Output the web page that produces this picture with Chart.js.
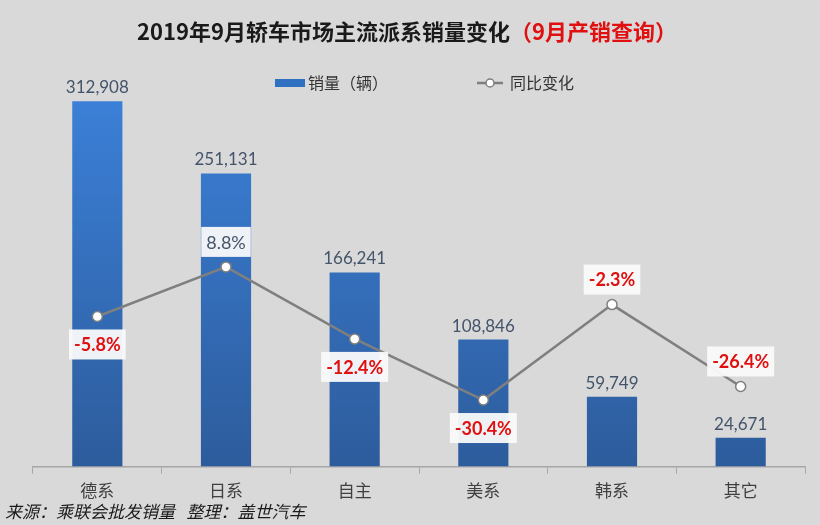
<!DOCTYPE html>
<html>
<head>
<meta charset="utf-8">
<script src="https://cdn.jsdelivr.net/npm/chart.js@4.4.1/dist/chart.umd.min.js"></script>
<style>
  html, body { margin: 0; padding: 0; background: #d9d9d9; }
  #wrap { width: 820px; height: 525px; position: relative; }
</style>
</head>
<body>
<div id="wrap"><canvas id="c" width="820" height="525"></canvas></div>
<script>
const categories = ['德系', '日系', '自主', '美系', '韩系', '其它'];
const sales = [312908, 251131, 166241, 108846, 59749, 24671];
const yoy = [-5.8, 8.8, -12.4, -30.4, -2.3, -26.4];

const salesLabel = '销量（辆）';
const yoyLabel = '同比变化';
const titleMain = '2019年9月轿车市场主流派系销量变化';
const titleRed = '（9月产销查询）';
const footer = '来源：乘联会批发销量   整理：盖世汽车';

// where each percent label sits relative to its point
const labelPos = ['below', 'above', 'below', 'below', 'above', 'above'];

const CJK = "'Noto Sans CJK SC', sans-serif";
const NUM = "Lato, 'Noto Sans CJK SC', sans-serif";

function barGradient(ctx) {
  const area = ctx.chart.chartArea;
  if (!area) return '#3576c8';
  const g = ctx.chart.ctx.createLinearGradient(0, area.top, 0, area.bottom);
  g.addColorStop(0, '#3b80d8');
  g.addColorStop(1, '#2d5c9c');
  return g;
}

const decor = {
  id: 'decor',
  afterDraw(chart) {
    const c = chart.ctx;
    c.save();
    // title
    c.textBaseline = 'middle';
    c.font = 'bold 22px ' + CJK;
    const w1 = c.measureText(titleMain).width;
    const w2 = c.measureText(titleRed).width;
    let x = 407 - (w1 + w2) / 2;
    c.fillStyle = '#1a1a1a';
    c.textAlign = 'left';
    c.fillText(titleMain, x, 32);
    c.fillStyle = '#e01010';
    c.fillText(titleRed, x + w1, 32);

    // legend
    c.fillStyle = '#3070c0';
    c.fillRect(275, 79, 30, 8);
    c.font = '16px ' + CJK;
    c.fillStyle = '#333';
    c.fillText(salesLabel, 308, 83);
    c.strokeStyle = '#7f7f7f';
    c.lineWidth = 2.5;
    c.beginPath(); c.moveTo(477, 83); c.lineTo(503, 83); c.stroke();
    c.beginPath(); c.arc(490, 83, 4, 0, Math.PI * 2);
    c.fillStyle = '#fff'; c.fill(); c.lineWidth = 1.5; c.stroke();
    c.fillStyle = '#333';
    c.fillText(yoyLabel, 510, 83);

    // bar value labels
    const barMeta = chart.getDatasetMeta(0);
    c.font = '17px ' + NUM;
    c.fillStyle = '#44546a';
    c.textAlign = 'center';
    c.textBaseline = 'bottom';
    barMeta.data.forEach((b, i) => {
      c.fillText(sales[i].toLocaleString('en-US'), b.x, b.y - 5);
    });

    // percent labels
    const lineMeta = chart.getDatasetMeta(1);
    c.textBaseline = 'middle';
    lineMeta.data.forEach((p, i) => {
      const txt = yoy[i].toFixed(1) + '%';
      const pos = yoy[i] > 0;
      c.font = (pos ? '' : 'bold ') + '18px ' + NUM;
      const tw = c.measureText(txt).width;
      const bw = tw + 10, bh = 30;
      const cy = labelPos[i] === 'above' ? p.y - 25 : p.y + 28;
      c.fillStyle = 'rgba(250,250,250,0.95)';
      c.fillRect(p.x - bw / 2, cy - bh / 2, bw, bh);
      c.fillStyle = pos ? '#44546a' : '#e01010';
      c.fillText(txt, p.x, cy + 1);
    });

    // footer
    c.textAlign = 'left';
    c.font = 'italic 17px ' + CJK;
    c.fillStyle = '#1a1a1a';
    c.fillText(footer, 5, 512);
    c.restore();
  }
};

new Chart(document.getElementById('c'), {
  data: {
    labels: categories,
    datasets: [
      {
        type: 'bar',
        label: salesLabel,
        data: sales,
        yAxisID: 'y',
        backgroundColor: barGradient,
        barPercentage: 0.39,
        categoryPercentage: 1,
        order: 2
      },
      {
        type: 'line',
        label: yoyLabel,
        data: yoy,
        yAxisID: 'y2',
        borderColor: '#7f7f7f',
        borderWidth: 2.5,
        pointRadius: 5,
        pointBackgroundColor: '#ffffff',
        pointBorderColor: '#7f7f7f',
        pointBorderWidth: 1.5,
        tension: 0,
        order: 1
      }
    ]
  },
  options: {
    responsive: false,
    animation: false,
    layout: { padding: { left: 33, right: 15, top: 93, bottom: 17 } },
    plugins: { legend: { display: false }, tooltip: { enabled: false } },
    scales: {
      x: {
        offset: true,
        grid: { offset: true, drawOnChartArea: false, drawTicks: true, tickLength: 7, color: '#a6a6a6' },
        border: { display: true, color: '#a6a6a6', width: 1.5 },
        ticks: { color: '#404040', font: { family: CJK, size: 17 }, padding: 7 }
      },
      y: { display: false, min: 0, max: 320000 },
      y2: { display: false, min: -50, max: 60 }
    }
  },
  plugins: [decor]
});
</script>
</body>
</html>
